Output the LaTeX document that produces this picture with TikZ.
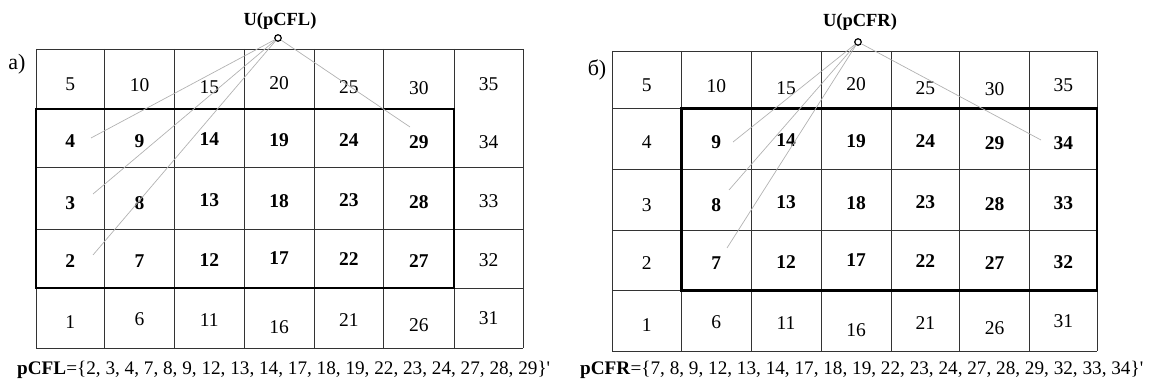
\documentclass[tikz,border=0pt]{standalone}
\usepackage{fontspec}
\setmainfont{Liberation Serif}[Ligatures=TeXOff]
\begin{document}
\begin{tikzpicture}[x=1pt,y=-1pt,
  gridline/.style={line width=0.9pt, black!80},
  frame/.style={line width=2.2pt, black, line join=miter},
  ray/.style={line width=0.7pt, black!30},
  num/.style={inner sep=0pt, font=\fontsize{19.5}{20}\selectfont},
  bnum/.style={inner sep=0pt, font=\fontsize{19.5}{20}\selectfont\bfseries},
  hub/.style={circle, draw, line width=1.2pt, fill=white, minimum size=6.5pt, inner sep=0pt},
  title/.style={inner sep=0pt, font=\fontsize{18.5}{20}\selectfont\bfseries},
  tag/.style={inner sep=0pt, font=\fontsize{22}{24}\selectfont},
  setlist/.style={inner sep=0pt, anchor=base west, font=\fontsize{19.2}{20}\selectfont}]

\useasboundingbox (0,0) rectangle (1155,387);

% vertical shift of each printed number inside its cell, indexed by the number
\def\shifts{{0,4,3,5,3,5,1,3,5,3,6,2,2,2,1.5,8,9,0,3,2,4,2,1,2,2,8,7,3,4,4,9,0,2,3,4,5}}

% ---------- grid (а) ----------
\foreach \x in {36,104.5,174.5,244,314,383.5,454,523}
  \draw[gridline] (\x,49) -- (\x,348);
\foreach \y in {49,167,229,288,348}
  \draw[gridline] (36,\y) -- (523,\y);
\draw[gridline] (36,109) -- (454,109);

\foreach \c/\xl/\xr in {0/36/104.5,1/104.5/174.5,2/174.5/244,3/244/314,4/314/383.5,5/383.5/454,6/454/523}
  \foreach \r/\yt/\yb in {0/49/109,1/109/167,2/167/229,3/229/288,4/288/348} {
    \pgfmathtruncatemacro\cellno{5*\c+5-\r}
    \pgfmathsetmacro\celldy{\shifts[\cellno]}
    \pgfmathtruncatemacro\isbold{(\c<6)&&(\r>0)&&(\r<4)}
    \ifnum\isbold=1
      \node[bnum] (a\cellno) at ({(\xl+\xr)/2},{(\yt+\yb)/2+\celldy}) {\cellno};
    \else
      \node[num] (a\cellno) at ({(\xl+\xr)/2},{(\yt+\yb)/2+\celldy}) {\cellno};
    \fi
  }
\draw[frame] (36,109) rectangle (454,288);

% ---------- grid (б) ----------
\foreach \x in {612,681.5,751,821,891,959.5,1029.5,1097}
  \draw[gridline] (\x,51) -- (\x,351);
\foreach \y in {51,108.5,169,230.5,290.5,351}
  \draw[gridline] (612,\y) -- (1097,\y);

\foreach \c/\xl/\xr in {0/612/681.5,1/681.5/751,2/751/821,3/821/891,4/891/959.5,5/959.5/1029.5,6/1029.5/1097}
  \foreach \r/\yt/\yb in {0/51/108.5,1/108.5/169,2/169/230.5,3/230.5/290.5,4/290.5/351} {
    \pgfmathtruncatemacro\cellno{5*\c+5-\r}
    \pgfmathsetmacro\celldy{\shifts[\cellno]}
    \pgfmathtruncatemacro\isbold{(\c>0)&&(\r>0)&&(\r<4)}
    \ifnum\isbold=1
      \node[bnum] (b\cellno) at ({(\xl+\xr)/2},{(\yt+\yb)/2+\celldy}) {\cellno};
    \else
      \node[num] (b\cellno) at ({(\xl+\xr)/2},{(\yt+\yb)/2+\celldy}) {\cellno};
    \fi
  }
\draw[frame] (681.5,108.5) rectangle (1097,290.5);

% ---------- hubs and their rays ----------
\node[title] (la) at (280,21.5) {U(pCFL)};
\node[hub] (ha) at (278,38) {};
\coordinate (ta4) at (91,138);
\coordinate (ta3) at (93,194);
\coordinate (ta2) at (93,255);
\coordinate (ta29) at (410,127);
\foreach \t in {ta4,ta3,ta2,ta29} \draw[ray] (ha) -- (\t);

\node[title] (lb) at (860,22) {U(pCFR)};
\node[hub] (hb) at (858,42) {};
\coordinate (tb9) at (733,142);
\coordinate (tb8) at (729,190);
\coordinate (tb7) at (727,248);
\coordinate (tb34) at (1041,140);
\foreach \t in {tb9,tb8,tb7,tb34} \draw[ray] (hb) -- (\t);

% ---------- captions ----------
\node[tag] (tga) at (17,64) {а)};
\node[tag] (tgb) at (597,70) {б)};

\node[setlist] (sa) at (17,374.5) {\textbf{pCFL}=\{2, 3, 4, 7, 8, 9, 12, 13, 14, 17, 18, 19, 22, 23, 24, 27, 28, 29\}'};
\node[setlist] (sb) at (580,374.5) {\textbf{pCFR}=\{7, 8, 9, 12, 13, 14, 17, 18, 19, 22, 23, 24, 27, 28, 29, 32, 33, 34\}'};
\end{tikzpicture}
\end{document}
